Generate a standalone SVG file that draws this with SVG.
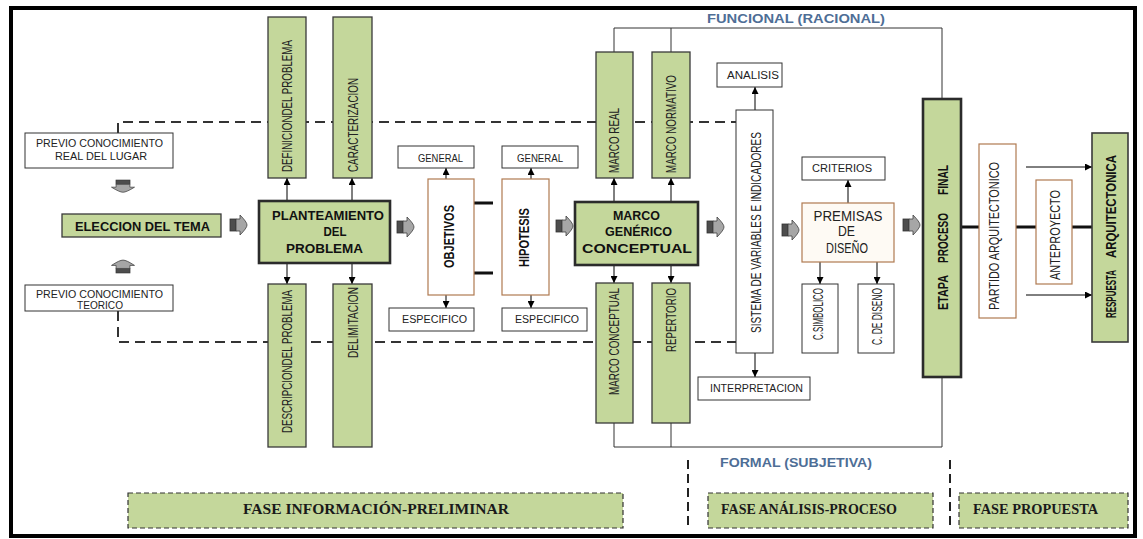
<svg xmlns="http://www.w3.org/2000/svg" xmlns:xlink="http://www.w3.org/1999/xlink" width="1143" height="539" viewBox="0 0 1143 539">
<style>
.g{fill:#c4d79b;stroke:#3a3a3a;stroke-width:1.3}
.gt{fill:#c4d79b;stroke:#2b2b2b;stroke-width:2.6}
.w{fill:#fff;stroke:#333;stroke-width:1}
.tan{fill:#fff;stroke:#b07a50;stroke-width:1.2}
.cream{fill:#fefaf4;stroke:#b07a50;stroke-width:1.2}
.fb{fill:#c4d79b;stroke:#333;stroke-width:1.2;stroke-dasharray:5 3}
.lbl{font-family:"Liberation Sans",Arial,sans-serif;font-size:10px;fill:#222}
.rot{font-family:"Liberation Sans",Arial,sans-serif;font-size:14.5px;fill:#222}
.b{font-weight:bold;fill:#111}
.title{font-family:"Liberation Sans",Arial,sans-serif;font-size:13.5px;font-weight:bold;fill:#111;text-anchor:middle}
.prem{font-family:"Liberation Sans",Arial,sans-serif;font-size:14px;fill:#222;text-anchor:middle}
.blue{font-family:"Liberation Sans",Arial,sans-serif;font-size:13px;font-weight:bold;fill:#4e6e96}
.fase{font-family:"Liberation Serif","Times New Roman",serif;font-size:15px;font-weight:bold;fill:#1a1a1a}
.dash{fill:none;stroke:#333;stroke-width:2;stroke-dasharray:10 6}
.sep{fill:none;stroke:#222;stroke-width:2;stroke-dasharray:9 5}
.ln{fill:none;stroke:#333;stroke-width:1}
.arr{fill:none;stroke:#000;stroke-width:1;marker-end:url(#ah)}
.thick{fill:none;stroke:#111;stroke-width:3}
</style>
<defs>
<marker id="ah" viewBox="0 0 8 8" refX="8" refY="4" markerWidth="7" markerHeight="7" markerUnits="userSpaceOnUse" orient="auto">
<path d="M0,0 L8,4 L0,8 z" fill="#000"/>
</marker>
<g id="ga">
<rect x="0" y="-6" width="6" height="12" fill="#4d4d4d" stroke="#333" stroke-width="0.8"/>
<path d="M6,-6 L10,-6 L10,-10 Q17,-3 17,0 Q17,3 10,10 L10,6 L6,6 Z" fill="#a6a6a6" stroke="#404040" stroke-width="0.8"/>
</g>
</defs>
<rect x="0" y="0" width="1143" height="539" fill="#fff"/>
<rect x="11" y="8" width="1124" height="528" fill="none" stroke="#000" stroke-width="4"/>

<g id="connectors">
<path class="dash" d="M118,133 V122 H736"/>
<path class="dash" d="M118,311 V342 H736"/>
<path class="ln" d="M614,52 V28 H942 V99 M671,52 V28"/>
<path class="ln" d="M614,423 V447 H942 V377 M671,423 V447"/>
<line class="arr" x1="287" y1="201" x2="287" y2="178"/>
<line class="arr" x1="352" y1="201" x2="352" y2="178"/>
<line class="arr" x1="287" y1="263" x2="287" y2="284"/>
<line class="arr" x1="352" y1="263" x2="352" y2="284"/>
<line class="arr" x1="446" y1="179" x2="446" y2="168"/>
<line class="arr" x1="531" y1="179" x2="531" y2="168"/>
<line class="arr" x1="446" y1="295" x2="446" y2="308"/>
<line class="arr" x1="531" y1="295" x2="531" y2="308"/>
<line class="arr" x1="614" y1="202" x2="614" y2="178"/>
<line class="arr" x1="671" y1="202" x2="671" y2="178"/>
<line class="arr" x1="614" y1="265" x2="614" y2="283"/>
<line class="arr" x1="671" y1="265" x2="671" y2="283"/>
<line class="arr" x1="755" y1="110" x2="755" y2="87"/>
<line class="arr" x1="755" y1="353" x2="755" y2="377"/>
<line class="arr" x1="848" y1="203" x2="848" y2="180"/>
<line class="arr" x1="820" y1="262" x2="820" y2="284"/>
<line class="arr" x1="877" y1="262" x2="877" y2="284"/>
<line class="arr" x1="1026" y1="167" x2="1092" y2="167"/>
<line class="arr" x1="1026" y1="295" x2="1092" y2="295"/>
<path class="thick" d="M474,203 H493 M474,273 H493"/>
<path class="thick" d="M961,227 H979 M1016,227 H1036 M1072,227 H1092"/>
<line class="sep" x1="688" y1="460" x2="688" y2="528"/>
<line class="sep" x1="950" y1="460" x2="950" y2="528"/>
<use xlink:href="#ga" href="#ga" transform="translate(230,225)"/>
<use xlink:href="#ga" href="#ga" transform="translate(397,227)"/>
<use xlink:href="#ga" href="#ga" transform="translate(556,226)"/>
<use xlink:href="#ga" href="#ga" transform="translate(707,227)"/>
<use xlink:href="#ga" href="#ga" transform="translate(782,230)"/>
<use xlink:href="#ga" href="#ga" transform="translate(903,225)"/>
<use xlink:href="#ga" href="#ga" transform="translate(123,180) rotate(90) scale(0.72,1.15)"/>
<use xlink:href="#ga" href="#ga" transform="translate(123,273) rotate(-90) scale(0.76,1.15)"/>
</g>

<g id="previo-real">
<rect class="w" x="25" y="133" width="148" height="35"/>
<text class="lbl" x="36" y="147" textLength="127" lengthAdjust="spacingAndGlyphs">PREVIO CONOCIMIENTO</text>
<text class="lbl" x="55" y="159.5" textLength="92" lengthAdjust="spacingAndGlyphs">REAL DEL LUGAR</text>
</g>
<g id="previo-teorico">
<rect class="w" x="25" y="285" width="148" height="26"/>
<text class="lbl" x="36" y="298" textLength="127" lengthAdjust="spacingAndGlyphs">PREVIO CONOCIMIENTO</text>
<text class="lbl" x="77" y="309" textLength="46" lengthAdjust="spacingAndGlyphs">TEORICO</text>
</g>
<g id="eleccion">
<rect class="g" x="62" y="214" width="159" height="23"/>
<text class="title" x="142.5" y="231" textLength="135" lengthAdjust="spacingAndGlyphs">ELECCION DEL TEMA</text>
</g>
<g id="definicion">
<rect class="g" x="268" y="17" width="38" height="161"/>
<text class="rot" transform="rotate(-90) scale(0.671,1)" x="-256.3" y="292.2" textLength="196.7" lengthAdjust="spacingAndGlyphs">DEFINICIONDEL PROBLEMA</text>
</g>
<g id="caracterizacion">
<rect class="g" x="333" y="17" width="39" height="161"/>
<text class="rot" transform="rotate(-90)" x="-172" y="358.2" textLength="94" lengthAdjust="spacingAndGlyphs">CARACTERIZACION</text>
</g>
<g id="planteamiento">
<rect class="gt" x="259" y="201" width="131" height="62"/>
<text class="title" x="328" y="220" textLength="112" lengthAdjust="spacingAndGlyphs">PLANTEAMIENTO</text>
<text class="title" x="335" y="235.5" textLength="23" lengthAdjust="spacingAndGlyphs">DEL</text>
<text class="title" x="324.5" y="253" textLength="77" lengthAdjust="spacingAndGlyphs">PROBLEMA</text>
</g>
<g id="descripcion">
<rect class="g" x="268" y="284" width="38" height="163"/>
<text class="rot" transform="rotate(-90)" x="-433" y="292.2" textLength="143" lengthAdjust="spacingAndGlyphs">DESCRIPCIONDEL PROBLEMA</text>
</g>
<g id="delimitacion">
<rect class="g" x="333" y="284" width="39" height="163"/>
<text class="rot" transform="rotate(-90)" x="-358" y="358.2" textLength="71" lengthAdjust="spacingAndGlyphs">DELIMITACION</text>
</g>
<g id="obj-general">
<rect class="w" x="398" y="146" width="76" height="22"/>
<text class="lbl" x="418" y="161.5" textLength="45" lengthAdjust="spacingAndGlyphs">GENERAL</text>
</g>
<g id="objetivos">
<rect class="tan" x="428" y="179" width="46" height="116"/>
<text class="rot b" transform="rotate(-90)" x="-268" y="454.2" textLength="63" lengthAdjust="spacingAndGlyphs">OBJETIVOS</text>
</g>
<g id="obj-especifico">
<rect class="w" x="389" y="308" width="85" height="23"/>
<text class="lbl" x="402" y="323" textLength="65" lengthAdjust="spacingAndGlyphs">ESPECIFICO</text>
</g>
<g id="hip-general">
<rect class="w" x="502" y="146" width="76" height="22"/>
<text class="lbl" x="517" y="161.5" textLength="46" lengthAdjust="spacingAndGlyphs">GENERAL</text>
</g>
<g id="hipotesis">
<rect class="tan" x="502" y="179" width="47" height="116"/>
<text class="rot b" transform="rotate(-90)" x="-267" y="529.2" textLength="59" lengthAdjust="spacingAndGlyphs">HIPOTESIS</text>
</g>
<g id="hip-especifico">
<rect class="w" x="502" y="308" width="85" height="23"/>
<text class="lbl" x="515" y="323" textLength="64" lengthAdjust="spacingAndGlyphs">ESPECIFICO</text>
</g>
<g id="marco-generico">
<rect class="gt" x="575" y="202" width="123" height="63"/>
<text class="title" x="636.5" y="220" textLength="47" lengthAdjust="spacingAndGlyphs">MARCO</text>
<text class="title" x="638.5" y="236" textLength="67" lengthAdjust="spacingAndGlyphs">GENÉRICO</text>
<text class="title" x="637" y="253" textLength="110" lengthAdjust="spacingAndGlyphs">CONCEPTUAL</text>
</g>
<g id="marco-real">
<rect class="g" x="596" y="52" width="37" height="126"/>
<text class="rot" transform="rotate(-90)" x="-173" y="619.2" textLength="65" lengthAdjust="spacingAndGlyphs">MARCO REAL</text>
</g>
<g id="marco-normativo">
<rect class="g" x="652" y="52" width="38" height="126"/>
<text class="rot" transform="rotate(-90)" x="-173" y="676.2" textLength="98" lengthAdjust="spacingAndGlyphs">MARCO NORMATIVO</text>
</g>
<g id="marco-conceptual">
<rect class="g" x="596" y="283" width="37" height="140"/>
<text class="rot" transform="rotate(-90)" x="-395" y="619.2" textLength="107" lengthAdjust="spacingAndGlyphs">MARCO CONCEPTUAL</text>
</g>
<g id="repertorio">
<rect class="g" x="652" y="283" width="38" height="140"/>
<text class="rot" transform="rotate(-90)" x="-352" y="676.2" textLength="64" lengthAdjust="spacingAndGlyphs">REPERTORIO</text>
</g>
<g id="analisis">
<rect class="w" x="717" y="63" width="65" height="24"/>
<text class="lbl" x="727" y="78.5" textLength="52" lengthAdjust="spacingAndGlyphs">ANALISIS</text>
</g>
<g id="sistema">
<rect class="w" x="736" y="110" width="37" height="243"/>
<text class="rot" transform="rotate(-90)" x="-333" y="761.2" textLength="201" lengthAdjust="spacingAndGlyphs">SISTEMA DE VARIABLES E INDICADORES</text>
</g>
<g id="interpretacion">
<rect class="w" x="698" y="377" width="112" height="23"/>
<text class="lbl" x="710" y="392" textLength="93" lengthAdjust="spacingAndGlyphs">INTERPRETACION</text>
</g>
<g id="criterios">
<rect class="w" x="802" y="157" width="83" height="23"/>
<text class="lbl" x="812" y="172" textLength="60" lengthAdjust="spacingAndGlyphs">CRITERIOS</text>
</g>
<g id="premisas">
<rect class="cream" x="802" y="203" width="92" height="59"/>
<text class="prem" x="848" y="220.5" textLength="69" lengthAdjust="spacingAndGlyphs">PREMISAS</text>
<text class="prem" x="846.5" y="236" textLength="17" lengthAdjust="spacingAndGlyphs">DE</text>
<text class="prem" x="847" y="253" textLength="42" lengthAdjust="spacingAndGlyphs">DISEÑO</text>
</g>
<g id="c-simbolico">
<rect class="w" x="802" y="284" width="36" height="69"/>
<text class="rot" transform="rotate(-90)" x="-340" y="823.2" textLength="52" lengthAdjust="spacingAndGlyphs">C.SIMBOLICO</text>
</g>
<g id="c-diseno">
<rect class="w" x="858" y="284" width="36" height="69"/>
<text class="rot" transform="rotate(-90)" x="-345" y="882.2" textLength="57" lengthAdjust="spacingAndGlyphs">C. DE DISENO</text>
</g>
<g id="etapa">
<rect class="gt" x="923" y="99" width="38" height="278"/>
<text class="rot b" transform="rotate(-90)" x="-310" y="948.2" textLength="35" lengthAdjust="spacingAndGlyphs">ETAPA</text>
<text class="rot b" transform="rotate(-90)" x="-263" y="948.2" textLength="50" lengthAdjust="spacingAndGlyphs">PROCESO</text>
<text class="rot b" transform="rotate(-90)" x="-195" y="948.2" textLength="30" lengthAdjust="spacingAndGlyphs">FINAL</text>
</g>
<g id="partido">
<rect class="tan" x="979" y="144" width="37" height="174"/>
<text class="rot" transform="rotate(-90)" x="-310" y="999.2" textLength="148" lengthAdjust="spacingAndGlyphs">PARTIDO ARQUITECTONICO</text>
</g>
<g id="anteproyecto">
<rect class="tan" x="1036" y="180" width="36" height="104"/>
<text class="rot" transform="rotate(-90)" x="-280" y="1060.2" textLength="90" lengthAdjust="spacingAndGlyphs">ANTEPROYECTO</text>
</g>
<g id="respuesta">
<rect class="g" x="1092" y="133" width="36" height="209" style="stroke-width:1.6"/>
<text class="rot b" transform="rotate(-90)" x="-318" y="1116.2" textLength="48" lengthAdjust="spacingAndGlyphs">RESPUESTA</text>
<text class="rot b" transform="rotate(-90)" x="-258" y="1116.2" textLength="103" lengthAdjust="spacingAndGlyphs">ARQUITECTONICA</text>
</g>
<g id="labels">
<text class="blue" x="707" y="23" textLength="178" lengthAdjust="spacingAndGlyphs">FUNCIONAL (RACIONAL)</text>
<text class="blue" x="720" y="467" textLength="152" lengthAdjust="spacingAndGlyphs">FORMAL (SUBJETIVA)</text>
</g>
<g id="fase-informacion">
<rect class="fb" x="128" y="493" width="495" height="35"/>
<text class="fase" x="243" y="514" textLength="266" lengthAdjust="spacingAndGlyphs">FASE INFORMACIÓN-PRELIMINAR</text>
</g>
<g id="fase-analisis">
<rect class="fb" x="708" y="493" width="225" height="35"/>
<text class="fase" x="721" y="514" textLength="176" lengthAdjust="spacingAndGlyphs">FASE ANÁLISIS-PROCESO</text>
</g>
<g id="fase-propuesta">
<rect class="fb" x="959" y="493" width="169" height="35"/>
<text class="fase" x="973" y="514" textLength="125" lengthAdjust="spacingAndGlyphs">FASE PROPUESTA</text>
</g>
</svg>
